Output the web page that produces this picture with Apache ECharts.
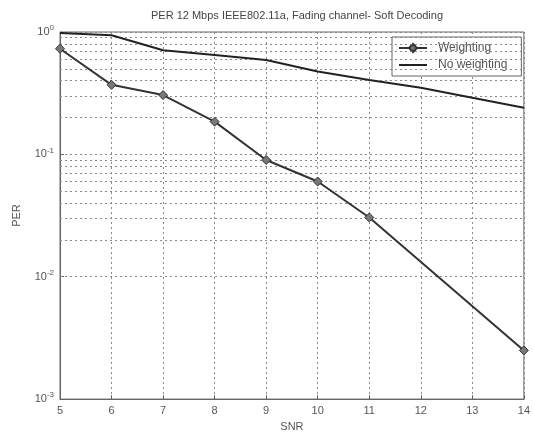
<!DOCTYPE html>
<html>
<head>
<meta charset="utf-8">
<script src="https://cdn.jsdelivr.net/npm/echarts@6/dist/echarts.min.js"></script>
<style>
  html, body { margin: 0; padding: 0; background: #fff; }
  #chart { width: 533px; height: 437px; }
</style>
</head>
<body>
<div id="chart"></div>
<script>
// SNR (dB) points
var snrWeighting = [5, 6, 7, 8, 9, 10, 11, 14];
var perWeighting = [0.73, 0.37, 0.305, 0.185, 0.09, 0.06, 0.0305, 0.0025];
var snrNoWeighting = [5, 6, 7, 8, 9, 10, 11, 12, 13, 14];
var perNoWeighting = [0.98, 0.94, 0.71, 0.65, 0.59, 0.475, 0.405, 0.35, 0.29, 0.24];
var decades = [0.001, 0.01, 0.1];
var minorSteps = [2, 3, 4, 5, 6, 7, 8, 9];

function pairs(xs, ys) {
  var out = [];
  for (var i = 0; i < xs.length; i++) out.push([xs[i], ys[i]]);
  return out;
}

// 对数轴的次网格线 (2..9 x 10^n)
var minorLines = [];
decades.forEach(function (d) {
  minorSteps.forEach(function (m) {
    minorLines.push({ yAxis: +(d * m).toPrecision(3) });
  });
});

var gridColor = '#8a8a8a';
var textColor = '#555';

var myChart = echarts.init(document.getElementById('chart'));
myChart.setOption({
  backgroundColor: '#fff',
  animation: false,
  title: {
    text: 'PER 12 Mbps IEEE802.11a, Fading channel- Soft Decoding',
    left: 292,
    top: 5,
    textAlign: 'center',
    textStyle: { fontSize: 11, fontWeight: 'normal', color: '#444', fontFamily: 'Liberation Sans' }
  },
  legend: {
    data: [
      { name: 'Weighting' },
      { name: 'No weighting', itemStyle: { opacity: 0 } }
    ],
    orient: 'vertical',
    left: 392,
    top: 37,
    backgroundColor: '#fff',
    borderColor: '#666',
    borderWidth: 1,
    padding: [5, 14, 5, 6],
    itemWidth: 28,
    itemHeight: 10,
    itemGap: 5,
    textStyle: { fontSize: 12, color: textColor, fontFamily: 'Liberation Sans', padding: [0, 0, 0, 6] }
  },
  grid: {
    left: 60, right: 5, top: 32, bottom: 37,
    show: true, borderColor: '#666', borderWidth: 1
  },
  xAxis: {
    type: 'value',
    min: 5, max: 14, interval: 1,
    name: 'SNR',
    nameLocation: 'middle',
    nameGap: 20,
    nameTextStyle: { fontSize: 11, color: textColor, fontFamily: 'Liberation Sans' },
    axisLine: { lineStyle: { color: '#666' } },
    axisTick: { inside: true, length: 4, lineStyle: { color: '#666' } },
    axisLabel: { fontSize: 11, color: textColor, margin: 6, fontFamily: 'Liberation Sans' },
    splitLine: { show: true, lineStyle: { color: gridColor, type: [2, 3], width: 1 } }
  },
  yAxis: {
    type: 'log',
    logBase: 10,
    min: 0.001, max: 1,
    name: 'PER',
    nameLocation: 'middle',
    nameGap: 38,
    nameTextStyle: { fontSize: 11, color: textColor, fontFamily: 'Liberation Sans' },
    axisLine: { show: true, lineStyle: { color: '#666' } },
    axisTick: { inside: true, length: 4, lineStyle: { color: '#666' } },
    axisLabel: {
      margin: 6,
      formatter: function (v) {
        var e = Math.round(Math.log10(v));
        return '{b|10}{s|' + e + '}';
      },
      rich: {
        b: { fontSize: 11, color: textColor, fontFamily: 'Liberation Sans' },
        s: { fontSize: 8, color: textColor, verticalAlign: 'top', padding: [0, 0, 8, 0], fontFamily: 'Liberation Sans' }
      }
    },
    splitLine: { show: true, lineStyle: { color: gridColor, type: [2, 3], width: 1 } }
  },
  series: [
    {
      name: 'minor',
      type: 'line',
      data: [],
      silent: true,
      markLine: {
        silent: true,
        symbol: 'none',
        label: { show: false },
        lineStyle: { color: gridColor, type: [2, 3], width: 1 },
        data: minorLines
      }
    },
    {
      name: 'Weighting',
      type: 'line',
      data: pairs(snrWeighting, perWeighting),
      symbol: 'diamond',
      symbolSize: 9,
      itemStyle: { color: '#777', borderColor: '#333', borderWidth: 1 },
      lineStyle: { color: '#333', width: 2 },
      z: 5
    },
    {
      name: 'No weighting',
      type: 'line',
      data: pairs(snrNoWeighting, perNoWeighting),
      symbol: 'none',
      itemStyle: { color: '#222' },
      lineStyle: { color: '#222', width: 2 },
      z: 5
    }
  ]
});
</script>
</body>
</html>
